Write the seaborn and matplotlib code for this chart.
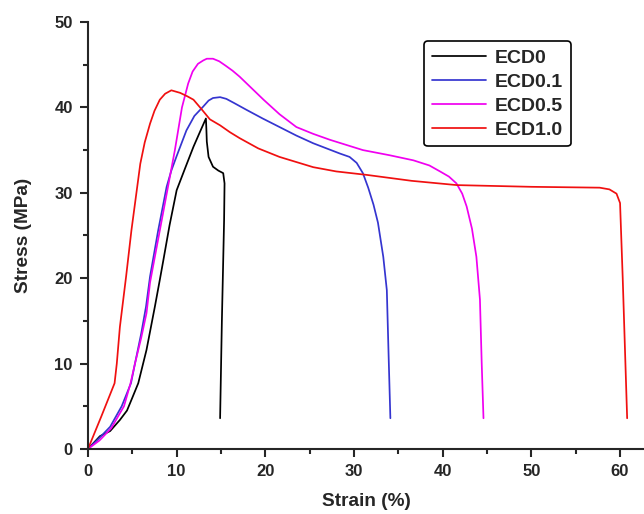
import numpy as np
import pandas as pd
import matplotlib
matplotlib.use("Agg")
import matplotlib.pyplot as plt
import seaborn as sns
from matplotlib.ticker import MultipleLocator

# ---------- DATA ----------
ecd0_x = [0, 1.35, 2.5, 3.6, 4.4, 5.0, 5.67, 6.6, 7.55, 8.1, 8.5, 9.2, 10.0, 11.0, 11.9,
          12.7, 13.3, 13.35, 13.4, 13.6, 14.1, 14.7, 15.25, 15.4, 15.35, 15.1, 14.9]
ecd0_y = [0, 1.5, 2.1, 3.4, 4.5, 6.0, 7.7, 11.6, 16.7, 19.8, 22.1, 26.2, 30.3, 33.0, 35.4,
          37.3, 38.7, 37.5, 36.0, 34.2, 33.05, 32.6, 32.3, 31.1, 26.8, 15.0, 3.6]

ecd01_x = [0, 1.2, 2.5, 3.8, 4.85, 5.3, 6.0, 6.55, 7.0, 7.9, 8.87, 9.4, 10.0, 11.1, 12.0,
           13.0, 13.6, 14.1, 14.9, 15.6, 16.5, 17.9, 19.7, 21.6, 23.5, 25.4, 28.4, 29.5,
           30.3, 31.0, 31.6, 32.2, 32.7, 33.3, 33.7, 33.9, 34.1]
ecd01_y = [0, 1.2, 2.6, 5.0, 7.7, 10.0, 13.5, 16.7, 20.2, 25.5, 30.7, 32.6, 34.3, 37.3, 39.0,
           40.1, 40.8, 41.1, 41.2, 41.0, 40.5, 39.7, 38.7, 37.7, 36.7, 35.8, 34.6, 34.2,
           33.5, 32.3, 30.6, 28.6, 26.5, 22.5, 18.6, 11.0, 3.6]

ecd05_x = [0, 1.3, 2.6, 4.06, 4.8, 5.3, 6.0, 6.6, 7.0, 8.5, 9.8, 10.6, 11.3, 11.8, 12.4,
           13.0, 13.4, 14.1, 14.8, 15.5, 16.3, 17.1, 18.4, 19.8, 21.6, 23.5, 25.4, 27.3,
           31.0, 34.0, 36.7, 38.5, 39.7, 40.7, 41.55, 42.2, 42.7, 43.3, 43.8, 44.2, 44.4,
           44.6]
ecd05_y = [0, 1.0, 2.4, 5.0, 7.7, 10.0, 13.0, 15.9, 19.5, 27.8, 35.0, 40.0, 42.8, 44.2, 45.1,
           45.5, 45.7, 45.7, 45.4, 44.9, 44.3, 43.6, 42.3, 40.9, 39.2, 37.7, 36.9, 36.2,
           35.0, 34.4, 33.8, 33.2, 32.5, 31.9, 31.1, 29.9, 28.4, 25.8, 22.5, 17.5, 10.0,
           3.6]

ecd10_x = [0, 1.5, 3.0, 3.25, 3.6, 4.3, 4.9, 5.9, 6.4, 7.0, 7.5, 8.1, 8.7, 9.4, 10.4, 11.2,
           11.9, 12.8, 13.75, 14.9, 16.0, 17.1, 19.2, 21.6, 23.5, 25.4, 28.0, 31.4, 36.5,
           41.6, 50.0, 57.7, 58.8, 59.6, 60.0, 60.3, 60.8]
ecd10_y = [0, 3.8, 7.7, 10.0, 14.3, 20.2, 25.6, 33.4, 35.9, 38.1, 39.6, 40.9, 41.6, 42.0,
           41.7, 41.3, 40.9, 39.8, 38.6, 37.9, 37.1, 36.4, 35.2, 34.2, 33.6, 33.0, 32.5,
           32.1, 31.4, 30.9, 30.7, 30.6, 30.4, 29.9, 28.8, 20.0, 3.6]

labels = ["ECD0", "ECD0.1", "ECD0.5", "ECD1.0"]
colors = ["#000000", "#3535d0", "#f000f0", "#f01010"]
series = [(ecd0_x, ecd0_y), (ecd01_x, ecd01_y), (ecd05_x, ecd05_y), (ecd10_x, ecd10_y)]

# ---------- STYLE ----------
sns.set_style("ticks")
plt.rcParams['font.family'] = ['Liberation Sans', 'DejaVu Sans']
plt.rcParams['font.weight'] = 'bold'

fig = plt.figure(figsize=(6.44, 5.14), dpi=100)
ax = fig.add_axes([0.1366, 0.1265, 0.8634, 0.8307])

for (xs, ys), lab, col in zip(series, labels, colors):
    df = pd.DataFrame({"strain": xs, "stress": ys})
    sns.lineplot(data=df, x="strain", y="stress", sort=False, estimator=None,
                 color=col, linewidth=1.25, label=lab, ax=ax)

ax.set_xlim(0, 62.7)
ax.set_ylim(0, 50)
ax.xaxis.set_major_locator(MultipleLocator(10))
ax.xaxis.set_minor_locator(MultipleLocator(5))
ax.yaxis.set_major_locator(MultipleLocator(10))
ax.yaxis.set_minor_locator(MultipleLocator(5))

sns.despine(ax=ax)
for s in ["left", "bottom"]:
    ax.spines[s].set_linewidth(1.5)

ax.tick_params(which="major", direction="out", length=6, width=1.5, labelsize=12, pad=5)
ax.tick_params(which="minor", direction="out", length=3.5, width=1.5)
for t in ax.get_xticklabels() + ax.get_yticklabels():
    t.set_fontweight("bold")

ax.set_xlabel("Strain (%)", fontsize=13.7, fontweight="bold", labelpad=10)
ax.set_ylabel("Stress (MPa)", fontsize=13.7, fontweight="bold", labelpad=16)

leg = ax.legend(loc="upper left", bbox_to_anchor=(0.604, 0.955), borderaxespad=0,
                frameon=True, fancybox=True, edgecolor="black", handlelength=2.8,
                prop={"size": 14, "weight": "bold"}, borderpad=0.4,
                labelspacing=0.33, handletextpad=0.45)
leg.get_frame().set_linewidth(1.2)
leg.get_frame().set_alpha(1)

fig.savefig("out.png", dpi=100, facecolor="white")
